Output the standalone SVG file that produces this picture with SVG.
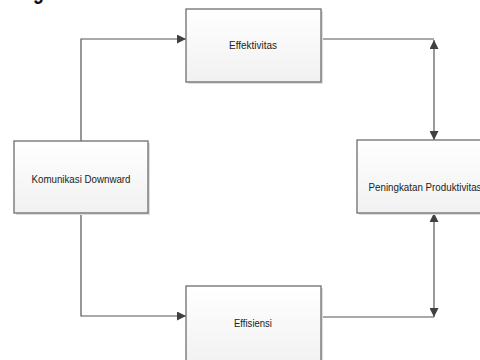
<svg xmlns="http://www.w3.org/2000/svg" width="480" height="360" viewBox="0 0 480 360">
<defs>
<linearGradient id="g" x1="0" y1="0" x2="0" y2="1">
<stop offset="0" stop-color="#ffffff"/>
<stop offset="1" stop-color="#f1f1f1"/>
</linearGradient>
<marker id="ah" viewBox="0 0 10 10" refX="10" refY="5" markerWidth="9" markerHeight="9" markerUnits="userSpaceOnUse" orient="auto-start-reverse">
<path d="M0,0 L10,5 L0,10 Z" fill="#404040"/>
</marker>
</defs>
<style>
.box{fill:url(#g);stroke:#6e6e6e;stroke-width:1.3}
.sh{fill:#dedede}
.lbl{font-family:"Liberation Sans",Arial,sans-serif;font-size:11px;fill:#222;text-anchor:middle}
.ln{fill:none;stroke:#555;stroke-width:1.2}
.title{font-family:"Liberation Sans",Arial,sans-serif;font-size:24px;font-weight:bold;fill:#111}
</style>
<rect width="480" height="360" fill="#ffffff"/>
<text class="title" x="-18" y="-1" textLength="146" lengthAdjust="spacingAndGlyphs">Kerangka dasar :</text>
<g id="connectors">
<path class="ln" d="M81,141 V39 H186" marker-end="url(#ah)"/>
<path class="ln" d="M81,213 V316 H186" marker-end="url(#ah)"/>
<path class="ln" d="M321,39 H434"/>
<path class="ln" d="M434,40 V140" marker-start="url(#ah)" marker-end="url(#ah)"/>
<path class="ln" d="M321,317 H434"/>
<path class="ln" d="M434,213 V317" marker-start="url(#ah)" marker-end="url(#ah)"/>
</g>
<g id="effektivitas">
<rect class="sh" x="188" y="11" width="135" height="73"/>
<rect class="box" x="186" y="9" width="135" height="73"/>
<text class="lbl" x="253" y="49" textLength="48" lengthAdjust="spacingAndGlyphs">Effektivitas</text>
</g>
<g id="komunikasi">
<rect class="sh" x="16" y="143" width="134" height="72"/>
<rect class="box" x="14" y="141" width="134" height="72"/>
<text class="lbl" x="81" y="183" textLength="99" lengthAdjust="spacingAndGlyphs">Komunikasi  Downward</text>
</g>
<g id="peningkatan">
<rect class="sh" x="359" y="142" width="130" height="73"/>
<rect class="box" x="357" y="140" width="130" height="73"/>
<text class="lbl" x="425" y="191" textLength="113" lengthAdjust="spacingAndGlyphs">Peningkatan Produktivitas</text>
</g>
<g id="effisiensi">
<rect class="sh" x="188" y="288" width="135" height="80"/>
<rect class="box" x="186" y="286" width="135" height="80"/>
<text class="lbl" x="253" y="327" textLength="38" lengthAdjust="spacingAndGlyphs">Effisiensi</text>
</g>
</svg>
